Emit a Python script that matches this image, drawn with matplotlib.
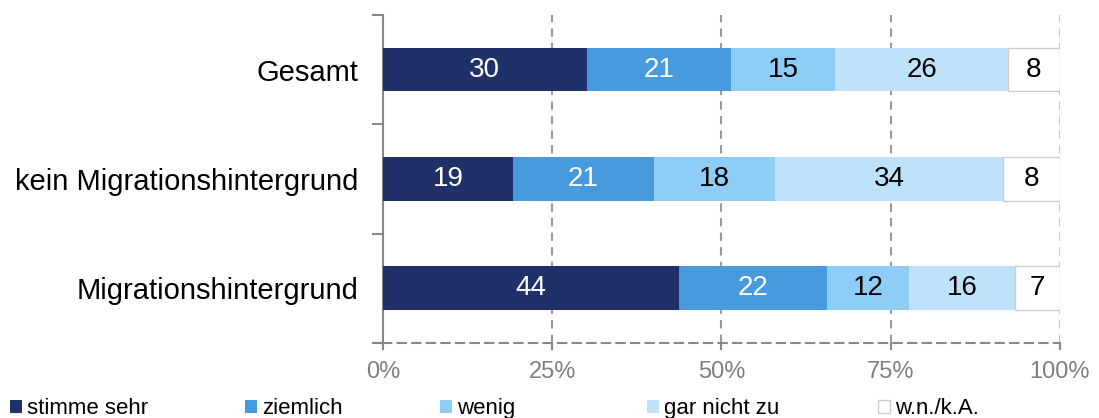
import numpy as np
import matplotlib
matplotlib.use("Agg")
import matplotlib.pyplot as plt
from matplotlib.patches import Rectangle

plt.rcParams['font.family'] = ['Liberation Sans', 'DejaVu Sans']

categories = ["Gesamt", "kein Migrationshintergrund", "Migrationshintergrund"]
series = ["stimme sehr", "ziemlich", "wenig", "gar nicht zu", "w.n./k.A."]
# shares in percent
stimme_sehr = [30.1, 19.2, 43.7]
ziemlich = [21.3, 20.8, 21.9]
wenig = [15.4, 17.9, 12.1]
gar_nicht = [25.5, 33.7, 15.7]
wnka = [7.7, 8.4, 6.6]
# printed labels
lab_stimme = [30, 19, 44]
lab_ziemlich = [21, 21, 22]
lab_wenig = [15, 18, 12]
lab_gar = [26, 34, 16]
lab_wnka = [8, 8, 7]

values = [stimme_sehr, ziemlich, wenig, gar_nicht, wnka]
labels = [lab_stimme, lab_ziemlich, lab_wenig, lab_gar, lab_wnka]
colors = ["#1F3168", "#479ADB", "#8ECDF5", "#BFE2FB", "#FFFFFF"]
text_colors = ["white", "white", "black", "black", "black"]

W, H = 1099, 418
fig = plt.figure(figsize=(W / 100, H / 100), dpi=100)
ax = fig.add_axes([0.3485, 0.1794, 0.616, 0.785])

y = np.arange(len(categories))[::-1]
left = np.zeros(len(categories))
for vals, labs, col, tcol in zip(values, labels, colors, text_colors):
    vals = np.array(vals)
    white = col == "#FFFFFF"
    ax.barh(y, vals, left=left, height=0.4, color=col,
            edgecolor="#CCCCCC" if white else col,
            linewidth=1.0 if white else 0, zorder=3)
    for yi, l, v, lab in zip(y, left, vals, labs):
        ax.text(l + v / 2, yi, str(lab), ha="center", va="center",
                fontsize=20, color=tcol, zorder=4)
    left += vals

ax.set_xlim(0, 100)
ax.set_ylim(-0.5, 2.5)
ax.set_xticks([0, 25, 50, 75, 100])
ax.set_xticklabels(["0%", "25%", "50%", "75%", "100%"])
ax.set_yticks(y)
ax.set_yticklabels(categories)
ax.set_yticks([-0.5, 0.5, 1.5, 2.5], minor=True)

ax.tick_params(axis="y", which="major", length=0, pad=18, labelsize=21)
ax.tick_params(axis="y", which="minor", length=8, width=1.5, color="#888888")
ax.tick_params(axis="x", length=5, width=1.5, color="#888888",
               labelsize=17, labelcolor="#7F7F7F", pad=8)

for x in [25, 50, 75, 100]:
    ax.axvline(x, color="#999999" if x < 100 else "#C8C8C8",
               linestyle=(0, (4, 3)), linewidth=1.5, zorder=1)

ax.spines["top"].set_visible(False)
ax.spines["right"].set_visible(False)
ax.spines["left"].set_color("#888888")
ax.spines["left"].set_linewidth(1.5)
ax.spines["bottom"].set_color("#888888")
ax.spines["bottom"].set_linewidth(1.5)
ax.spines["bottom"].set_linestyle((0, (4, 3)))

# legend laid out like the original (Excel-style spacing)
legend_x = [10, 245, 440, 647, 878]
for lx, name, col in zip(legend_x, series, colors):
    white = col == "#FFFFFF"
    fig.patches.append(Rectangle((lx / W, (H - 413) / H), 12 / W, 13 / H,
                                 transform=fig.transFigure, facecolor=col,
                                 edgecolor="#CCCCCC" if white else col,
                                 linewidth=1.0 if white else 0))
    fig.text((lx + 17) / W, (H - 414) / H, name, fontsize=16,
             ha="left", va="baseline")

fig.savefig("out.png", dpi=100)
